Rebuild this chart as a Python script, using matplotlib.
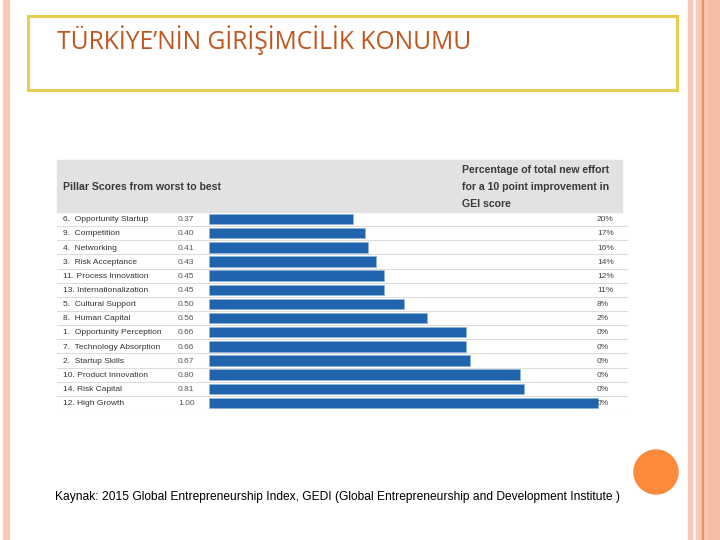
import matplotlib
matplotlib.use("Agg")
import matplotlib.pyplot as plt
from matplotlib.patches import Rectangle, Ellipse

# data
pillars = ["6.  Opportunity Startup", "9.  Competition", "4.  Networking",
           "3.  Risk Acceptance", "11. Process Innovation", "13. Internationalization",
           "5.  Cultural Support", "8.  Human Capital", "1.  Opportunity Perception",
           "7.  Technology Absorption", "2.  Startup Skills", "10. Product Innovation",
           "14. Risk Capital", "12. High Growth"]
scores = [0.37, 0.40, 0.41, 0.43, 0.45, 0.45, 0.50, 0.56, 0.66, 0.66, 0.67, 0.80, 0.81, 1.00]
effort = ["20%", "17%", "16%", "14%", "12%", "11%", "8%", "2%",
          "0%", "0%", "0%", "0%", "0%", "0%"]

title = "TÜRKİYE’NİN GİRİŞİMCİLİK KONUMU"
source = ("Kaynak: 2015 Global Entrepreneurship Index, GEDI (Global Entrepreneurship "
          "and Development Institute )")

W, H = 720, 540
def fx(px): return px / W
def fy(py): return 1 - py / H

fig = plt.figure(figsize=(7.2, 5.4), dpi=100)
fig.patch.set_facecolor("white")

# slide decoration: stripes
fig.patches.append(Rectangle((fx(3), 0), fx(6), 1, transform=fig.transFigure,
                             color="#f8c8b4", zorder=0))
fig.patches.append(Rectangle((fx(688), 0), fx(4), 1, transform=fig.transFigure,
                             color="#f8c8b4", zorder=0))
fig.patches.append(Rectangle((fx(696), 0), fx(24), 1, transform=fig.transFigure,
                             color="#fcc8b4", zorder=0))
fig.patches.append(Rectangle((fx(702), 0), fx(1), 1, transform=fig.transFigure,
                             color="#e8906c", zorder=0))
fig.patches.append(Rectangle((fx(708), 0), fx(12), 1, transform=fig.transFigure,
                             color="#f6bca6", zorder=0))

# title box
fig.patches.append(Rectangle((fx(28), fy(90)), fx(649), 74 / H, transform=fig.transFigure,
                             facecolor="white", edgecolor="#e8cc50", lw=2.2, zorder=1))
fig.text(fx(57), fy(40), title, fontsize=17.7, color="#c0561e", family="Open Sans",
         va="center", ha="left")

# orange dot
fig.patches.append(Ellipse((fx(656), fy(472)), 44 / W, 44 / H, transform=fig.transFigure,
                           color="#fb8a3a", zorder=2))

# gray header
fig.patches.append(Rectangle((fx(57), fy(212)), fx(565), 52 / H, transform=fig.transFigure,
                             color="#e2e2e2", zorder=1))
sans = ["Liberation Sans", "DejaVu Sans"]
fig.text(fx(63), fy(187), "Pillar Scores from worst to best", fontsize=7.6,
         weight="bold", color="#3a3a3a", family=sans, va="center")
for i, line in enumerate(["Percentage of total new effort",
                          "for a 10 point improvement in", "GEI score"]):
    fig.text(fx(462), fy(170 + 17 * i), line, fontsize=7.6, weight="bold",
             color="#3a3a3a", family=sans, va="center")

# bars
ax = fig.add_axes([fx(57), fy(410), fx(628 - 57), (410 - 212) / H])
x0, scale = 209, 389
ax.set_xlim((57 - x0) / scale, (628 - x0) / scale)
ax.set_ylim(len(scores) - 0.5, -0.5)
ypos = list(range(len(scores)))
ax.barh(ypos, scores, height=0.74, color="#1f64ad", edgecolor="#8fb4dc", lw=0.5, zorder=2)
for i in ypos:
    ax.axhline(i + 0.5, color="#dddddd", lw=0.8, zorder=1)
    ax.text((63 - x0) / scale, i + 0.05, pillars[i], fontsize=6.0, color="#333333",
            family=sans, va="center", ha="left")
    ax.text((178 - x0) / scale, i + 0.05, f"{scores[i]:.2f}", fontsize=6.0, color="#555555",
            family=sans, va="center", ha="left")
    ax.text((597 - x0) / scale, i + 0.05, effort[i], fontsize=6.0, color="#444444",
            family=sans, va="center", ha="left")
ax.axis("off")

fig.text(fx(55), fy(497), source, fontsize=8.65, family="Liberation Sans",
         color="black", va="center", ha="left")

fig.savefig("out.png", dpi=100)
